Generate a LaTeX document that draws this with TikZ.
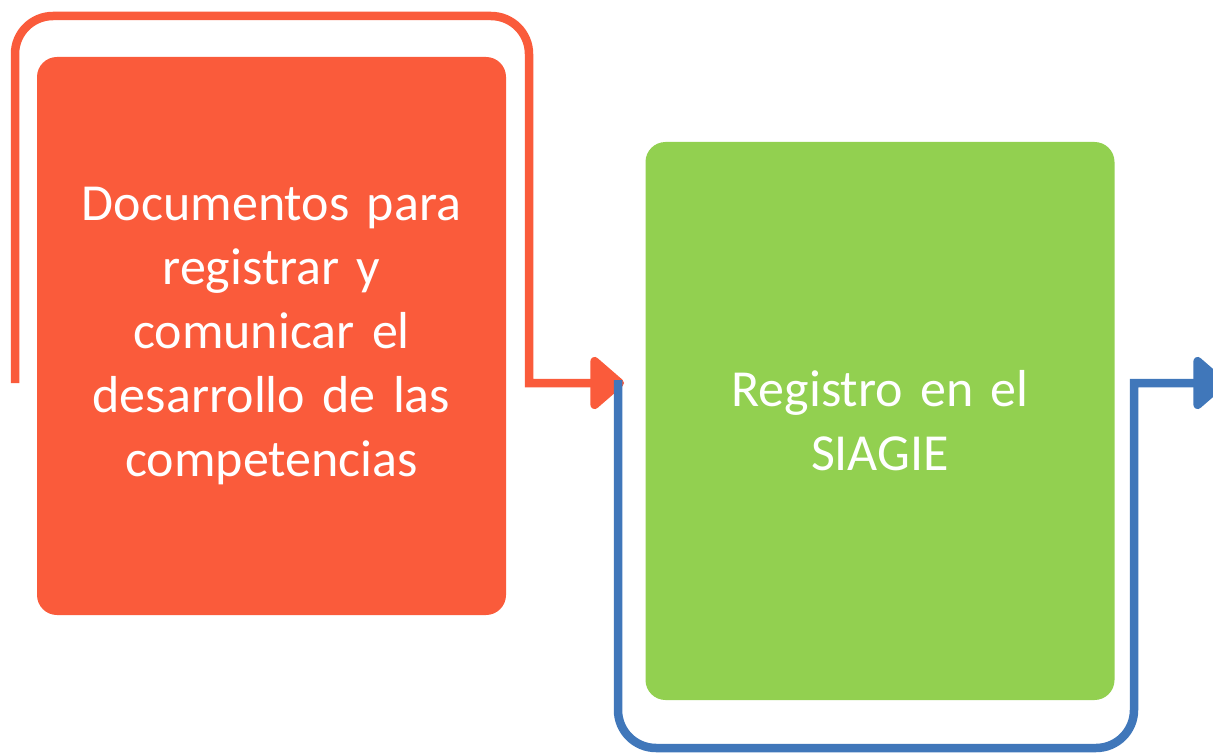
\documentclass[tikz,border=0pt]{standalone}
\usepackage{fontspec}
\setmainfont{Carlito}
\usetikzlibrary{arrows.meta}
\definecolor{redc}{RGB}{250,91,59}
\definecolor{greenc}{RGB}{146,208,80}
\definecolor{bluec}{RGB}{64,119,186}
\begin{document}
\begin{tikzpicture}[x=1pt,y=-1pt,
  box/.style={rounded corners=20pt, minimum width=469pt, minimum height=558pt, text=white,
    align=center, font=\fontsize{52}{64}\selectfont, inner sep=0pt, text width=440pt},
  flow/.style={line width=8.5pt, rounded corners=38pt,
    -{Triangle[length=36pt 0 0,width=60pt 0 0,round=false]}}]
\useasboundingbox (0,0) rectangle (1213,754);
\clip (0,0) rectangle (1213,754);
\node[box, fill=redc] (doc) at (271.5,336) {Documentos para\\registrar y\\comunicar el\\desarrollo de las\\competencias};
\node[box, fill=greenc] (sia) at (880,421) {Registro en el\\SIAGIE};
\coordinate (rs) at (15,383);
\coordinate (rt) at (624,383);
\coordinate (bs) at (618,380);
\coordinate (bt) at (1227,383);
\draw[flow, draw=redc] (rs) -- (15,16) -- (529,16) [rounded corners=0pt]-- (529,383) -- (rt);
\draw[flow, draw=bluec] (bs) [rounded corners=38pt]-- (618,748) -- (1134,748) [rounded corners=0pt]-- (1134,383) -- (bt);
\end{tikzpicture}
\end{document}
